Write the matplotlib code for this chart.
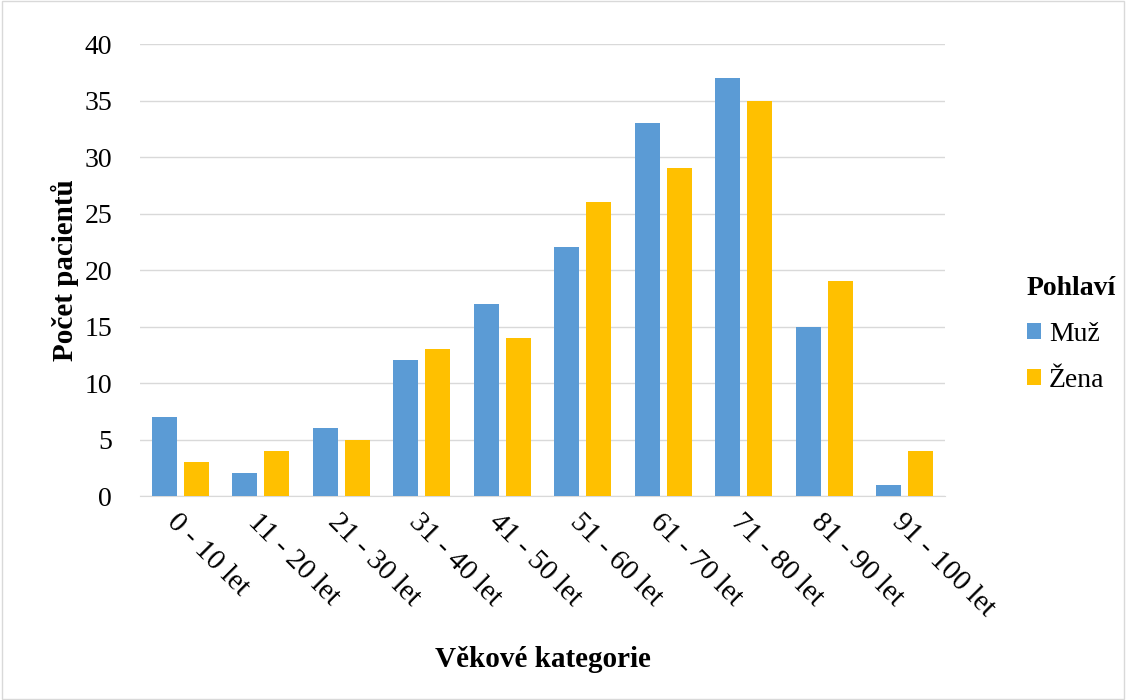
import numpy as np
import matplotlib.pyplot as plt
from matplotlib.patches import Rectangle

plt.rcParams['font.family'] = ['Liberation Serif', 'DejaVu Serif']

categories = ['0 - 10 let', '11 - 20 let', '21 - 30 let', '31 - 40 let', '41 - 50 let',
              '51 - 60 let', '61 - 70 let', '71 - 80 let', '81 - 90 let', '91 - 100 let']
muz = [7, 2, 6, 12, 17, 22, 33, 37, 15, 1]
zena = [3, 4, 5, 13, 14, 26, 29, 35, 19, 4]

fig = plt.figure(figsize=(11.26, 7), dpi=100)
fig.patches.append(Rectangle((0.002, 0.002), 0.996, 0.996, transform=fig.transFigure,
                             fill=False, edgecolor='#D9D9D9', linewidth=1))
ax = fig.add_axes([0.1243, 0.2914, 0.7150, 0.6457])

x = np.arange(len(categories))
w = 0.31
ax.bar(x - 0.2, muz, w, color='#5B9BD5', label='Muž', zorder=3)
ax.bar(x + 0.2, zena, w, color='#FFC000', label='Žena', zorder=3)

ax.set_xlim(-0.5, len(categories) - 0.5)
ax.set_ylim(0, 40)
ax.set_yticks(range(0, 41, 5))
ax.yaxis.grid(True, color='#D9D9D9', linewidth=1, zorder=0)
for s in ['top', 'right', 'left']:
    ax.spines[s].set_visible(False)
ax.spines['bottom'].set_color('#D9D9D9')
ax.tick_params(axis='y', length=0, labelsize=20, pad=20)

ax.set_xticks(x)
ax.set_xticklabels(categories, rotation=-45, ha='left', va='top', rotation_mode='anchor')
ax.tick_params(axis='x', length=0, labelsize=21, pad=9)

ax.set_ylabel('Počet pacientů', fontsize=21, fontweight='bold', labelpad=4)
ax.set_xlabel('Věkové kategorie', fontsize=21, fontweight='bold', labelpad=18)

leg = fig.legend(title='Pohlaví', loc='center left', bbox_to_anchor=(0.912, 0.522),
                 frameon=False, fontsize=20, title_fontproperties={'weight': 'bold', 'size': 20},
                 handlelength=0.5, handleheight=0.5, handletextpad=0.3, labelspacing=0.75,
                 borderpad=0, borderaxespad=0)
leg._legend_box.align = 'left'

fig.savefig('out.png', dpi=100)
